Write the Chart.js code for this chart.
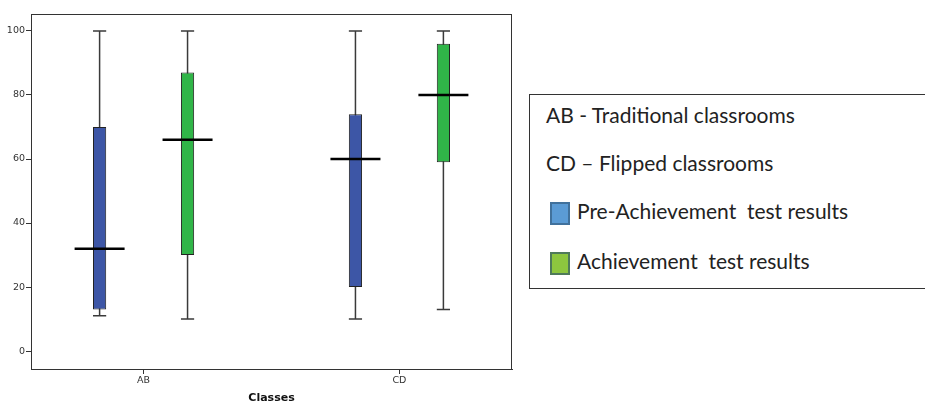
<!DOCTYPE html>
<html>
<head>
<meta charset="utf-8">
<script src="https://cdn.jsdelivr.net/npm/chart.js@4"></script>
<style>
  html, body { margin: 0; padding: 0; background: #fff; }
  body { width: 925px; height: 406px; position: relative; overflow: hidden; }
  #wrap { position: absolute; left: 0; top: 0; width: 520px; height: 406px; }
  .legend {
    position: absolute; left: 529px; top: 94px; width: 420px; height: 195px;
    border: 1px solid #333; box-sizing: border-box;
    font-family: Lato, "Open Sans", sans-serif; font-size: 21px; color: #222;
  }
  .legend .row { position: absolute; white-space: nowrap; line-height: 25.2px; }
  .legend .sw { position: absolute; left: 20px; width: 20px; height: 23px; box-sizing: border-box; border: 2px solid; }
</style>
</head>
<body>
<div id="wrap"><canvas id="chart"></canvas></div>
<div class="legend">
  <div class="row" style="left:16px;top:7px">AB - Traditional classrooms</div>
  <div class="row" style="left:16px;top:55px">CD – Flipped classrooms</div>
  <div class="sw" style="top:107px;background:#5b9bd5;border-color:#41719c"></div>
  <div class="row" style="left:47px;top:103px">Pre-Achievement&nbsp; test results</div>
  <div class="sw" style="top:157px;background:#8dc63f;border-color:#4f7a5a"></div>
  <div class="row" style="left:47px;top:153px">Achievement&nbsp; test results</div>
</div>
<script>
const classes = ['AB', 'CD'];
const yTicks = [0, 20, 40, 60, 80, 100];

// Pre-Achievement test results
const preMin = [11, 10];
const preQ1 = [13, 20];
const preMedian = [32, 60];
const preQ3 = [70, 74];
const preMax = [100, 100];

// Achievement test results
const achMin = [10, 13];
const achQ1 = [30, 59];
const achMedian = [66, 80];
const achQ3 = [87, 96];
const achMax = [100, 100];

function boxData(q1, q3) {
  return classes.map((c, i) => ({ x: i, y: [q1[i], q3[i]] }));
}

// whiskers, caps and medians drawn from the scales
const boxPlot = {
  id: 'boxPlot',
  beforeDatasetsDraw(chart) {
    const { ctx, scales: { y } } = chart;
    ctx.save();
    chart.data.datasets.forEach((ds, d) => {
      const meta = chart.getDatasetMeta(d);
      meta.data.forEach((bar, i) => {
        const top = y.getPixelForValue(ds.max[i]);
        const bot = y.getPixelForValue(ds.min[i]);
        const half = bar.width / 2;
        ctx.strokeStyle = '#3a3a3a';
        ctx.lineWidth = 1.5;
        ctx.beginPath();
        ctx.moveTo(bar.x, top); ctx.lineTo(bar.x, bot);
        ctx.moveTo(bar.x - half, top); ctx.lineTo(bar.x + half, top);
        ctx.moveTo(bar.x - half, bot); ctx.lineTo(bar.x + half, bot);
        ctx.stroke();
      });
    });
    ctx.restore();
  },
  afterDatasetsDraw(chart) {
    const { ctx, scales: { y } } = chart;
    ctx.save();
    chart.data.datasets.forEach((ds, d) => {
      const meta = chart.getDatasetMeta(d);
      meta.data.forEach((bar, i) => {
        const m = y.getPixelForValue(ds.median[i]);
        ctx.strokeStyle = '#000';
        ctx.lineWidth = 2.5;
        ctx.beginPath();
        ctx.moveTo(bar.x - 25, m); ctx.lineTo(bar.x + 25, m);
        ctx.stroke();
      });
    });
    ctx.restore();
  },
  afterDraw(chart) {
    const { ctx, chartArea: a } = chart;
    ctx.save();
    ctx.strokeStyle = '#333';
    ctx.lineWidth = 1;
    ctx.strokeRect(a.left + 0.5, a.top + 0.5, a.right - a.left - 1, a.bottom - a.top);
    ctx.restore();
  }
};

new Chart(document.getElementById('chart'), {
  type: 'bar',
  data: {
    datasets: [
      {
        label: 'Pre-Achievement test results',
        data: boxData(preQ1, preQ3),
        min: preMin, median: preMedian, max: preMax,
        backgroundColor: '#3d56a6',
        borderColor: '#222',
        borderWidth: 1,
        borderSkipped: false
      },
      {
        label: 'Achievement test results',
        data: boxData(achQ1, achQ3),
        min: achMin, median: achMedian, max: achMax,
        backgroundColor: '#30b548',
        borderColor: '#222',
        borderWidth: 1,
        borderSkipped: false
      }
    ]
  },
  options: {
    responsive: true,
    maintainAspectRatio: false,
    animation: false,
    categoryPercentage: 0.6875,
    barPercentage: 0.15,
    layout: { padding: { top: 14, right: 8, left: 0, bottom: 0 } },
    plugins: { legend: { display: false }, tooltip: { enabled: false } },
    scales: {
      x: {
        type: 'linear',
        offset: false,
        min: -0.44,
        max: 1.44,
        afterBuildTicks(scale) { scale.ticks = classes.map((c, i) => ({ value: i })); },
        afterFit(scale) { scale.height = 37; },
        ticks: {
          callback: v => classes[v],
          font: { family: 'DejaVu Sans', size: 9.5 },
          color: '#333',
          padding: 1,
          maxRotation: 0
        },
        grid: { offset: false, drawOnChartArea: false, tickLength: 5, color: '#333' },
        border: { color: '#333' },
        title: {
          display: true,
          text: 'Classes',
          font: { family: 'DejaVu Sans', size: 11, weight: 'bold' },
          color: '#111',
          padding: { top: 0, bottom: 1 }
        }
      },
      y: {
        min: -5.6,
        max: 105.3,
        afterBuildTicks(scale) { scale.ticks = yTicks.map(v => ({ value: v })); },
        afterFit(scale) { scale.width = 31; },
        ticks: {
          font: { family: 'DejaVu Sans', size: 9.5 },
          color: '#333',
          padding: 1
        },
        grid: { drawOnChartArea: false, tickLength: 5, color: '#333' },
        border: { color: '#333' }
      }
    }
  },
  plugins: [boxPlot]
});
</script>
</body>
</html>
